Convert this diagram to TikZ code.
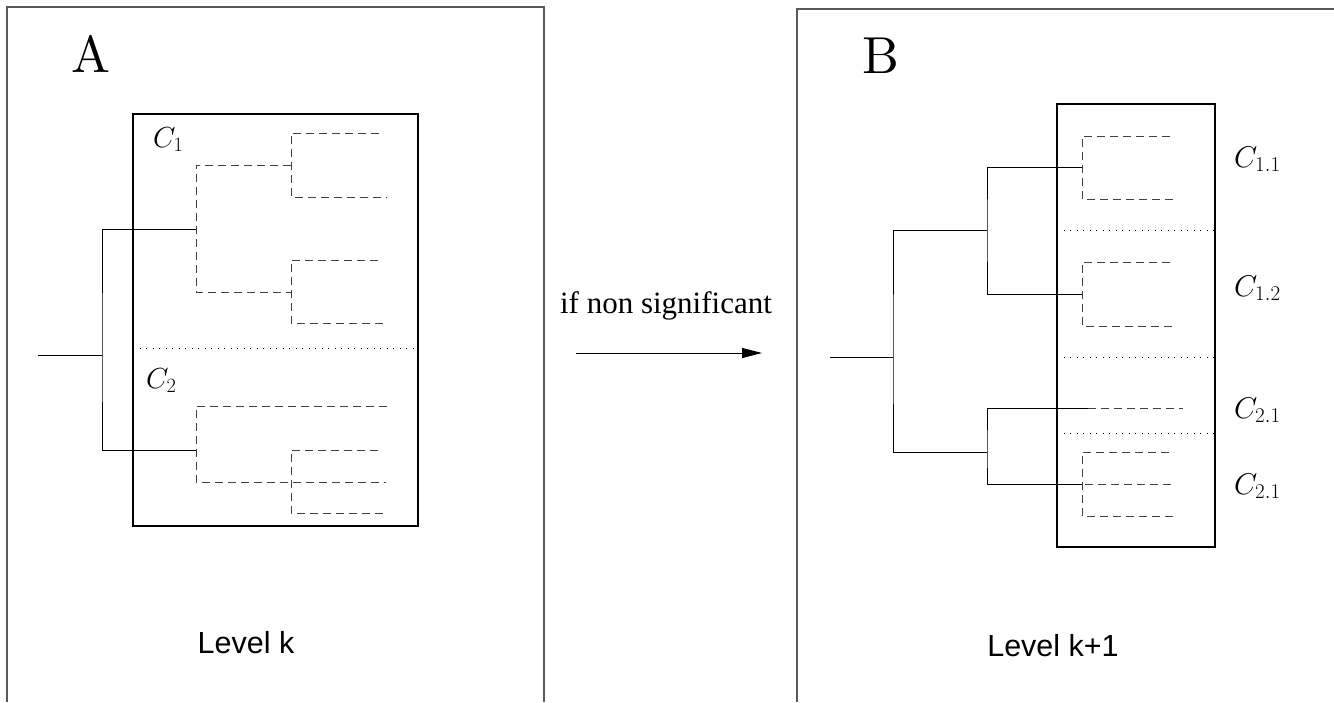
\RequirePackage{fix-cm}
\documentclass[tikz,border=0pt]{standalone}
\usepackage{fontspec}
\newfontfamily\lvlfont{Liberation Sans}
\newfontfamily\serfont{Liberation Serif}
\newfontfamily\lmten{lmroman10-regular}[Extension=.otf]
\usetikzlibrary{arrows.meta}
\begin{document}
\begin{tikzpicture}[x=1pt,y=-1pt,
  frame/.style={line width=1.2pt, draw=black!65},
  clbox/.style={line width=1.8pt},
  tree/.style={line width=1pt},
  dtree/.style={line width=1pt, draw=black!75, dash pattern=on 8pt off 5pt},
  dotsep/.style={line width=1pt, dash pattern=on 1pt off 5.5pt},
  clab/.style={anchor=base west, inner sep=0pt, font=\fontsize{29}{30}\selectfont},
  clabr/.style={anchor=base west, inner sep=0pt, font=\fontsize{30}{31}\selectfont},
  big/.style={anchor=base west, inner sep=0pt, font=\lmten\fontsize{52}{54}\selectfont},
  lvl/.style={anchor=base, inner sep=0pt, font=\lvlfont\fontsize{30.5}{32}\selectfont},
]
\useasboundingbox (0,0) rectangle (1334,702);

% panel frames
\draw[frame] (7,702) -- (7,7) -- (544,7) -- (544,702);
\draw[frame] (797,702) -- (797,9) -- (1334,9);

% ---------------- Panel A ----------------
\node[big] (A) at (71,72) {A};
\draw[clbox] (133,114) rectangle (418,526);
\draw[dotsep] (133,348) -- (418,348);
\node[clab] (c1) at (153,147) {$C_1$};
\node[clab] (c2) at (146,388) {$C_2$};

\coordinate (a0) at (38,355);
\coordinate (a) at (102,355);
\coordinate (a1) at (196,229);
\coordinate (a2) at (196,450);
\draw[tree] (a0) -- (a) (a1) -| (a) |- (a2);

% C1 dashed subtree
\coordinate (a1t) at (196,165);
\coordinate (a1b) at (196,292);
\coordinate (a11) at (291,165);
\coordinate (a12) at (291,292);
\draw[dtree] (a11) -- (a1t) -- (a1b) -- (a12);
\draw[dtree] (379,133) -- (291,133) -- (291,197) -- (387,197);
\draw[dtree] (378,260) -- (291,260) -- (291,323) -- (387,323);

% C2 dashed subtree
\draw[dtree] (387,406) -- (196,406) -- (196,482) -- (386,482);
\draw[dtree] (378,450) -- (291,450) -- (291,513) -- (387,513);

\node[lvl] (lk) at (246,653) {Level k};

% ---------------- Arrow ----------------
\node[anchor=base, inner sep=0pt, font=\serfont\fontsize{31}{32}\selectfont] (lbl) at (666,313) {if non significant};
\coordinate (ar0) at (576,353);
\coordinate (ar1) at (762,353);
\draw[line width=1pt, -{Triangle[length=20pt,width=10pt]}] (ar0) -- (ar1);

% ---------------- Panel B ----------------
\node[big] (B) at (862,73) {B};
\draw[clbox] (1057,104) rectangle (1215,547);
\draw[dotsep] (1057,230) -- (1215,230);
\draw[dotsep] (1057,357) -- (1215,357);
\draw[dotsep] (1057,433) -- (1215,433);
\node[clabr] (c11) at (1234,167) {$C_{1.1}$};
\node[clabr] (c12) at (1234,296) {$C_{1.2}$};
\node[clabr] (c21) at (1234,418) {$C_{2.1}$};
\node[clabr] (c22) at (1234,494) {$C_{2.1}$};

\coordinate (b0) at (830,357);
\coordinate (b) at (893,357);
\coordinate (b1) at (987,230);
\coordinate (b2) at (987,452);
\draw[tree] (b0) -- (b) (b1) -| (b) |- (b2);
\coordinate (b11) at (1082,167);
\coordinate (b12) at (1082,294);
\draw[tree] (b11) -| (b1) |- (b12);
\coordinate (b21) at (1088,408);
\coordinate (b22) at (1082,484);
\draw[tree] (b21) -| (b2) |- (b22);

\draw[dtree] (1170,136) -- (1082,136) -- (1082,199) -- (1177,199);
\draw[dtree] (1170,262) -- (1082,262) -- (1082,326) -- (1177,326);
\draw[dtree] (b21) -- (1183,408);
\draw[dtree] (1169,452) -- (1082,452) -- (1082,516) -- (1177,516);
\draw[dtree] (1085,484) -- (1175,484);

\node[lvl] (lk1) at (1053,656) {Level k+1};
\end{tikzpicture}
\end{document}
